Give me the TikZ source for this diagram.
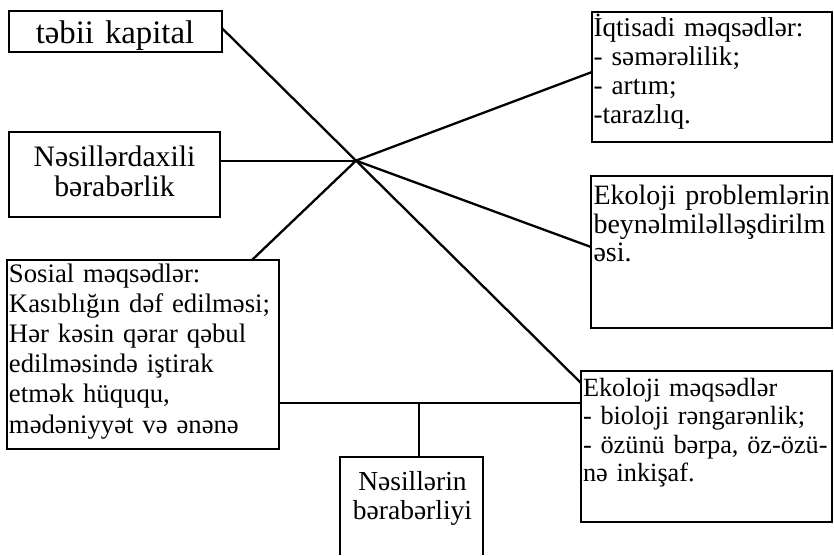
\documentclass[tikz,border=0pt]{standalone}
\usepackage{fontspec}
\setmainfont{Liberation Serif}
\usetikzlibrary{calc}
\begin{document}
\begin{tikzpicture}[x=1pt,y=-1pt,
  boxline/.style={line width=1.6pt},
  boxnode/.style={draw, boxline, inner sep=0pt, outer sep=0pt, anchor=north west},
  link/.style={line width=2.3pt},
  ltext/.style={inner sep=0pt, outer sep=0pt, align=left, anchor=base west, text width=320pt},
  ctext/.style={inner sep=0pt, outer sep=0pt, align=center, anchor=base, text width=240pt},
  sz/.style 2 args={font=\fontsize{#1pt}{#2pt}\selectfont}
]
\useasboundingbox (0,0) rectangle (834,555);

% frames
\node[boxnode, minimum width=213pt, minimum height=41pt]  (tk)  at (9,11)    {};
\node[boxnode, minimum width=211pt, minimum height=85pt]  (nd)  at (9,132)   {};
\node[boxnode, minimum width=272pt, minimum height=189pt] (sos) at (7,260)   {};
\node[boxnode, minimum width=240pt, minimum height=130pt] (iq)  at (592,12)  {};
\node[boxnode, minimum width=241pt, minimum height=152pt] (ep)  at (591,176) {};
\node[boxnode, minimum width=251pt, minimum height=151pt] (em)  at (581,371) {};
\node[inner sep=0pt, outer sep=0pt, anchor=north west,
      minimum width=143pt, minimum height=98pt] (nb) at (340,457) {};
\draw[boxline] (nb.south west) -- (nb.north west) -- (nb.north east) -- (nb.south east);

% texts
\node[ctext, sz={32.8}{36}] (tkT) at (115,43.3) {təbii kapital};
\node[ctext, sz={29.7}{30}] (ndT) at (114.5,166.7)
  {Nəsillərdaxili\\bərabərlik};
\node[ltext, sz={26.7}{30.2}] (sosT) at (9,282)
  {Sosial məqsədlər:\\Kasıblığın dəf edilməsi;\\Hər kəsin qərar qəbul\\edilməsində iştirak\\etmək hüququ,\\mədəniyyət və ənənə};
\node[ltext, sz={27.2}{29}] (iqT) at (593.5,36)
  {İqtisadi məqsədlər:\\- səmərəlilik;\\- artım;\\-tarazlıq.};
\node[ltext, sz={28}{28.5}] (epT) at (593.5,204.5)
  {\makebox[237pt][s]{Ekoloji problemlərin}\\beynəlmiləlləşdirilm\\əsi.};
\node[ltext, sz={26.3}{28.4}] (emT) at (583,396.5)
  {Ekoloji məqsədlər\\- bioloji rəngarənlik;\\- özünü bərpa, öz-özü-\\nə inkişaf.};
\node[ctext, sz={27.5}{28.8}] (nbT) at (412.5,490.5)
  {Nəsillərin\\bərabərliyi};

% connectors
\coordinate (tkP) at ($(tk.north east)+(0,17.2)$);
\coordinate (emP) at ($(em.north west)+(0,12)$);
\coordinate (hub) at ($(tkP)!0.3733!(emP)$);
\draw[link] (tkP) -- (emP);
\draw[link] (nd.east |- hub) -- (hub);
\draw[link] ($(sos.north west)+(245,0)$) -- (hub);
\draw[link] (hub) -- ($(iq.north west)+(0,60)$);
\draw[link] (hub) -- ($(ep.north west)+(0,71)$);
\coordinate (midL) at ($(sos.north east)+(0,143)$);
\draw[link] (midL) -- (midL -| em.west);
\coordinate (jn) at (419,403);
\draw[link] (jn) -- (jn |- nb.north);
\end{tikzpicture}
\end{document}
